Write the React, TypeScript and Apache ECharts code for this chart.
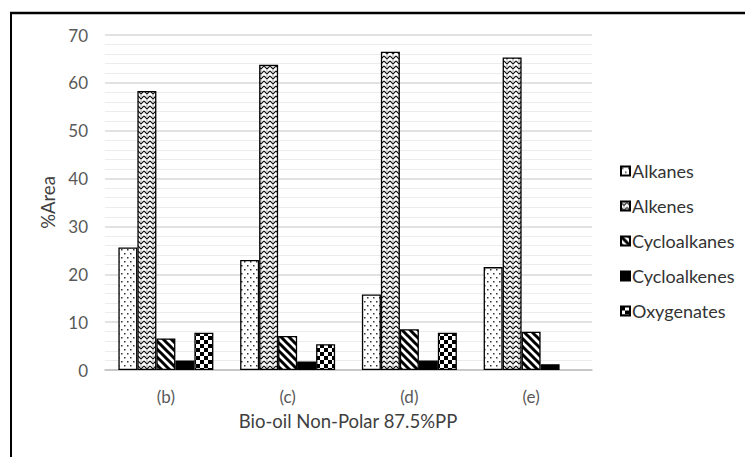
import React, { useEffect, useRef } from "react";
import * as echarts from "echarts";

const categories = ["(b)", "(c)", "(d)", "(e)"];
const seriesNames = ["Alkanes", "Alkenes", "Cycloalkanes", "Cycloalkenes", "Oxygenates"];
const alkanes = [25.6, 23.0, 15.8, 21.5];
const alkenes = [58.3, 63.8, 66.5, 65.3];
const cycloalkanes = [6.6, 7.1, 8.5, 8.0];
const cycloalkenes = [2.0, 1.8, 2.0, 1.2];
const oxygenates = [7.8, 5.4, 7.8, null];
const yTicks = [0, 10, 20, 30, 40, 50, 60, 70];
const xTitle = "Bio-oil Non-Polar 87.5%PP";
const yTitle = "%Area";

function makeTile(w: number, h: number, draw: (c: CanvasRenderingContext2D) => void) {
  const cv = document.createElement("canvas");
  cv.width = w;
  cv.height = h;
  const ctx = cv.getContext("2d")!;
  ctx.fillStyle = "#ffffff";
  ctx.fillRect(0, 0, w, h);
  draw(ctx);
  return { image: cv, repeat: "repeat", imageWidth: w, imageHeight: h };
}

function patterns() {
  const dots = makeTile(6, 8, (c) => {
    c.fillStyle = "#333";
    c.fillRect(1, 1, 1.5, 1.5);
    c.fillRect(4, 5, 1.5, 1.5);
  });
  const zigzag = makeTile(6, 5, (c) => {
    c.strokeStyle = "#111";
    c.lineWidth = 1.1;
    c.beginPath();
    c.moveTo(0, 1);
    c.lineTo(3, 4);
    c.lineTo(6, 1);
    c.stroke();
    c.fillStyle = "#555";
    c.fillRect(2.5, 0.5, 1, 1);
  });
  const stripes = makeTile(8, 8, (c) => {
    c.strokeStyle = "#000";
    c.lineWidth = 3;
    c.beginPath();
    c.moveTo(-2, -2);
    c.lineTo(10, 10);
    c.moveTo(-10, -2);
    c.lineTo(2, 10);
    c.moveTo(6, -2);
    c.lineTo(18, 10);
    c.stroke();
  });
  const checker = makeTile(8, 8, (c) => {
    c.fillStyle = "#000";
    c.fillRect(0, 0, 4, 4);
    c.fillRect(4, 4, 4, 4);
  });
  return [dots, zigzag, stripes, "#000000", checker];
}

export default function App() {
  const ref = useRef<HTMLDivElement>(null);
  useEffect(() => {
    document.body.style.margin = "0";
    const chart = echarts.init(ref.current!, null, { renderer: "svg" });
    const pats = patterns();
    const data = [alkanes, alkenes, cycloalkanes, cycloalkenes, oxygenates];
    const font = "Lato, 'Open Sans', sans-serif";
    chart.setOption({
      animation: false,
      backgroundColor: "#ffffff",
      textStyle: { fontFamily: font },
      grid: { left: 105, right: 153, top: 35, bottom: 87 },
      legend: {
        orient: "vertical",
        left: 615,
        top: 157,
        itemGap: 17,
        itemWidth: 9,
        itemHeight: 9,
        icon: "rect",
        data: seriesNames,
        textStyle: { fontSize: 18, color: "#333333", fontFamily: font, padding: [0, 0, 0, -3] },
      },
      xAxis: {
        type: "category",
        data: categories,
        axisTick: { show: false },
        axisLine: { lineStyle: { color: "#bfbfbf", width: 1.5 } },
        axisLabel: { fontSize: 17, color: "#595959", margin: 18 },
      },
      yAxis: {
        type: "value",
        min: yTicks[0],
        max: yTicks[yTicks.length - 1],
        interval: 10,
        name: yTitle,
        nameLocation: "middle",
        nameGap: 46,
        nameTextStyle: { fontSize: 18.5, color: "#404040" },
        axisLabel: { fontSize: 17, color: "#595959", margin: 17 },
        axisLine: { show: false },
        axisTick: { show: false },
        splitLine: { lineStyle: { color: "#d9d9d9", width: 1.5 } },
        minorTick: { show: false, splitNumber: 5 },
        minorSplitLine: { show: true, lineStyle: { color: "#ececec", width: 1 } },
      },
      graphic: [
        { type: "line", shape: { x1: 10, y1: 13, x2: 745, y2: 13 }, style: { stroke: "#000", lineWidth: 2.5 } },
        { type: "line", shape: { x1: 11, y1: 12, x2: 11, y2: 457 }, style: { stroke: "#000", lineWidth: 2 } },
        {
          type: "text",
          x: 348,
          y: 421,
          style: { text: xTitle, fontSize: 18.5, fill: "#404040", fontFamily: font, align: "center", verticalAlign: "middle" },
        },
      ],
      series: seriesNames.map((n, i) => ({
        name: n,
        type: "bar",
        data: data[i],
        barGap: "0%",
        barCategoryGap: "22%",
        itemStyle: { color: pats[i], borderColor: "#000", borderWidth: 1.3 },
      })),
    });
    return () => chart.dispose();
  }, []);
  return <div ref={ref} style={{ width: 745, height: 457 }} />;
}
